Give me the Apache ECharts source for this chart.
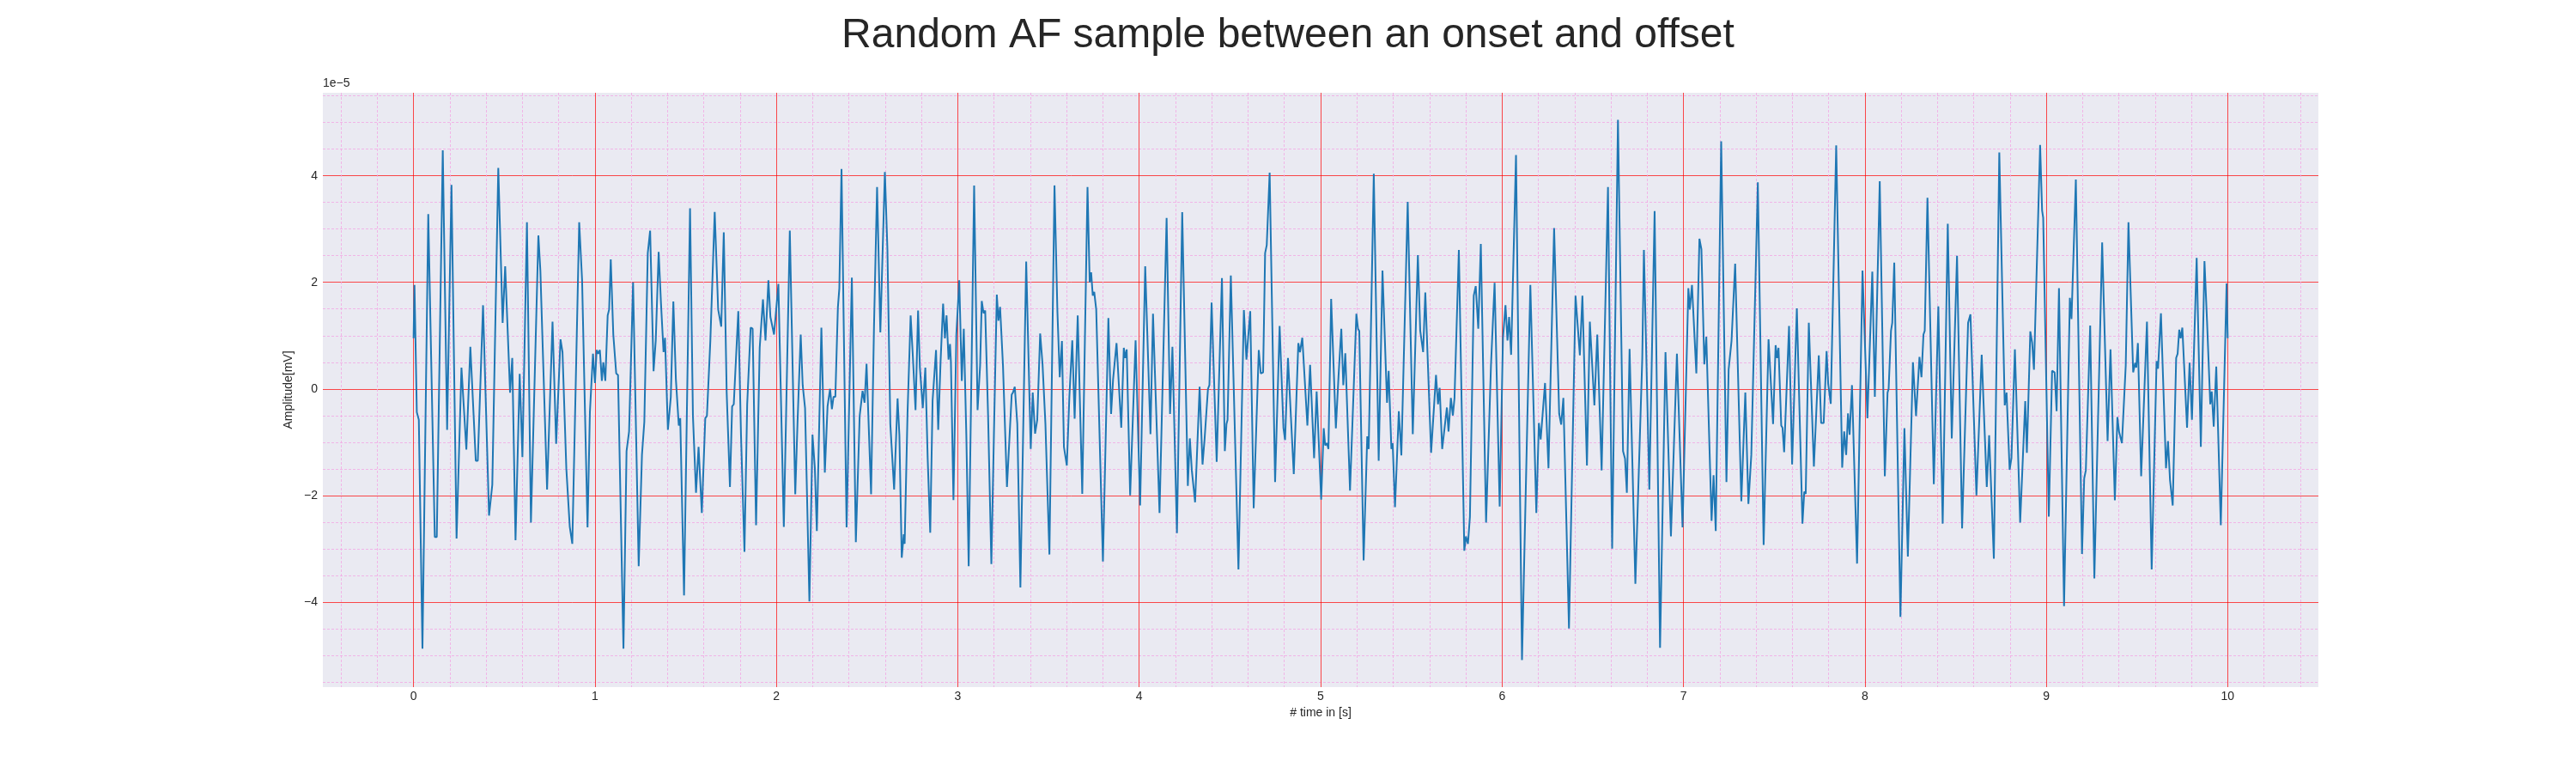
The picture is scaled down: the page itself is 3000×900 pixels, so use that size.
<!DOCTYPE html>
<html>
<head>
<meta charset="utf-8">
<title>Random AF sample</title>
<script src="https://cdn.jsdelivr.net/npm/echarts@6.0.0/dist/echarts.min.js"></script>
<style>
  html, body { margin: 0; padding: 0; background: #ffffff; }
  #chart { width: 3000px; height: 900px; }
</style>
</head>
<body>
<div id="chart"></div>
<script>
// time of each read point, in seconds (one line per second of signal)
const timeSec = [
  0.000,0.005,0.018,0.029,0.049,0.081,0.117,0.128,0.161,0.185,0.209,0.237,0.264,0.291,0.313,0.319,0.343,0.354,0.383,0.416,0.434,0.467,0.491,0.505,0.532,0.544,0.562,0.585,0.600,0.625,0.647,0.688,0.699,0.736,0.766,0.786,0.810,0.821,0.842,0.861,0.875,0.913,0.929,0.959,0.972,0.989,1.000,
  1.009,1.018,1.027,1.038,1.046,1.057,1.070,1.078,1.087,1.101,1.117,1.127,1.157,1.174,1.188,1.210,1.241,1.259,1.272,1.291,1.304,1.323,1.335,1.351,1.364,1.378,1.386,1.402,1.418,1.432,1.446,1.462,1.470,1.491,1.524,1.540,1.557,1.571,1.589,1.608,1.617,1.636,1.660,1.679,1.696,1.710,1.726,1.744,1.756,1.765,1.790,1.805,1.824,1.839,1.858,1.869,1.888,1.908,1.926,1.940,1.956,1.967,1.975,1.987,2.011,
  2.041,2.074,2.104,2.117,2.134,2.145,2.158,2.182,2.199,2.212,2.223,2.248,2.267,2.282,2.296,2.306,2.315,2.325,2.339,2.347,2.359,2.387,2.416,2.438,2.459,2.475,2.486,2.497,2.522,2.538,2.555,2.573,2.598,2.612,2.628,2.636,2.649,2.668,2.678,2.691,2.702,2.707,2.723,2.740,2.751,2.757,2.767,2.781,2.791,2.807,2.821,2.834,2.848,2.861,2.880,2.892,2.905,2.919,2.929,2.938,2.949,2.957,2.962,2.976,2.992,3.008,
  3.022,3.033,3.047,3.060,3.090,3.109,3.123,3.132,3.142,3.151,3.167,3.185,3.199,3.215,3.224,3.233,3.249,3.271,3.279,3.297,3.304,3.314,3.328,3.345,3.377,3.402,3.413,3.426,3.438,3.454,3.467,3.470,3.483,3.505,3.533,3.549,3.562,3.574,3.585,3.601,3.615,3.631,3.644,3.661,3.686,3.715,3.727,3.735,3.744,3.752,3.763,3.771,3.800,3.830,3.845,3.856,3.864,3.875,3.901,3.915,3.923,3.931,3.950,3.980,
  4.005,4.033,4.062,4.076,4.091,4.112,4.151,4.170,4.183,4.208,4.237,4.268,4.279,4.290,4.298,4.308,4.333,4.349,4.360,4.368,4.379,4.387,4.399,4.427,4.456,4.472,4.481,4.487,4.505,4.547,4.577,4.591,4.612,4.631,4.659,4.670,4.683,4.694,4.703,4.719,4.749,4.774,4.795,4.804,4.820,4.852,4.877,4.886,4.899,4.927,4.942,4.964,4.978,
  5.003,5.017,5.025,5.035,5.043,5.058,5.084,5.099,5.114,5.125,5.136,5.162,5.197,5.206,5.213,5.237,5.257,5.265,5.293,5.320,5.341,5.366,5.375,5.390,5.397,5.410,5.431,5.445,5.480,5.508,5.536,5.549,5.565,5.577,5.609,5.636,5.647,5.656,5.670,5.681,5.696,5.705,5.718,5.729,5.738,5.746,5.762,5.792,5.801,5.812,5.823,5.844,5.855,5.869,5.883,5.912,5.923,5.939,5.959,5.987,
  6.005,6.019,6.030,6.039,6.050,6.077,6.110,6.156,6.189,6.203,6.213,6.237,6.256,6.287,6.315,6.326,6.338,6.369,6.405,6.429,6.443,6.468,6.484,6.509,6.525,6.549,6.584,6.607,6.639,6.667,6.678,6.688,6.703,6.735,6.773,6.782,6.812,6.841,6.871,6.901,6.931,6.964,6.995,
  7.027,7.035,7.047,7.071,7.088,7.099,7.115,7.126,7.155,7.166,7.178,7.208,7.237,7.249,7.265,7.273,7.285,7.319,7.341,7.358,7.374,7.410,7.442,7.469,7.494,7.508,7.516,7.524,7.539,7.546,7.555,7.582,7.599,7.625,7.656,7.666,7.674,7.691,7.719,7.746,7.759,7.773,7.789,7.798,7.805,7.812,7.842,7.875,7.886,7.897,7.907,7.916,7.929,7.957,7.987,
  8.014,8.041,8.055,8.082,8.110,8.125,8.131,8.144,8.151,8.162,8.196,8.218,8.237,8.265,8.282,8.301,8.312,8.323,8.330,8.345,8.380,8.405,8.429,8.457,8.479,8.508,8.536,8.569,8.582,8.615,8.644,8.672,8.685,8.711,8.741,8.771,8.781,8.798,8.808,8.827,8.856,8.884,8.893,8.912,8.922,8.932,8.966,8.977,8.983,
  9.014,9.032,9.046,9.057,9.070,9.098,9.130,9.139,9.163,9.197,9.209,9.218,9.242,9.265,9.308,9.338,9.354,9.378,9.392,9.401,9.409,9.417,9.438,9.453,9.479,9.490,9.496,9.505,9.523,9.555,9.581,9.608,9.616,9.632,9.660,9.671,9.682,9.697,9.716,9.724,9.733,9.741,9.750,9.776,9.790,9.803,9.829,9.852,9.872,9.886,9.904,9.912,9.923,9.937,9.962,9.994,10.000
]

// amplitude at each point, in units of 1e-5 mV (the axis carries the 1e−5 offset)
const amplitudeE5 = [
  0.95,1.95,-0.44,-0.58,-4.88,3.28,-2.78,-2.78,4.48,-0.77,3.83,-2.81,0.40,-1.14,0.79,0.77,-1.35,-1.35,1.57,-2.38,-1.80,4.15,1.24,2.30,-0.07,0.58,-2.84,0.28,-1.28,3.13,-2.51,2.88,2.22,-1.89,1.26,-1.03,0.93,0.69,-1.49,-2.59,-2.91,3.13,2.04,-2.60,-0.44,0.66,0.11,
  0.73,0.66,0.73,0.15,0.50,0.15,1.38,1.49,2.43,1.02,0.29,0.26,-4.88,-1.17,-0.80,2.00,-3.33,-1.24,-0.62,2.55,2.97,0.33,0.91,2.57,1.60,0.69,0.96,-0.77,-0.15,1.64,0.18,-0.69,-0.55,-3.88,3.39,-0.51,-1.95,-1.09,-2.33,-0.55,-0.51,0.91,3.32,1.49,1.17,2.94,-0.07,-1.84,-0.33,-0.29,1.46,-0.87,-3.06,-0.29,1.15,1.13,-2.56,0.77,1.68,0.91,2.04,1.35,1.35,1.02,1.97,
  -2.59,2.97,-1.98,-0.58,1.02,0.07,-0.36,-3.99,-0.86,-1.49,-2.67,1.15,-1.57,-0.33,0.00,-0.38,-0.15,-0.15,1.53,1.89,4.13,-2.60,2.09,-2.88,-0.51,-0.04,-0.26,0.47,-1.98,1.17,3.79,1.06,4.07,2.62,-0.66,-0.69,-1.89,-0.18,-0.87,-3.17,-2.73,-2.91,-0.44,1.38,0.69,0.66,-0.40,1.47,0.40,-0.36,0.40,-1.31,-2.70,-0.22,0.73,-0.77,0.51,1.60,0.95,1.38,0.55,0.84,0.51,-2.09,1.02,2.04,
  0.15,1.13,-0.87,-3.33,3.82,-0.40,0.44,1.65,1.42,1.47,-0.51,-3.29,-0.87,1.77,1.28,1.54,0.44,-1.84,-1.84,-0.11,-0.07,0.04,-0.66,-3.73,2.39,-1.13,-0.07,-0.84,-0.58,1.04,0.47,0.44,-0.66,-3.11,3.82,1.46,0.22,0.90,-1.09,-1.44,-0.15,0.91,-0.56,1.38,-1.97,3.79,2.00,2.19,1.75,1.82,1.49,1.46,-3.24,1.33,-0.47,0.18,0.15,0.86,-0.73,0.77,0.58,0.74,-2.00,0.91,
  -2.19,2.30,-0.85,1.41,-0.15,-2.33,3.21,-0.47,0.79,-2.71,3.32,-1.82,-0.93,-1.53,-1.53,-2.13,0.04,-1.42,-0.96,-0.96,0.00,0.07,1.62,-1.37,2.08,-1.17,-0.66,-0.58,2.13,-3.39,1.48,0.55,1.46,-2.24,0.73,0.29,0.31,2.55,2.70,4.06,-1.75,1.18,-0.73,-0.96,0.58,-1.60,0.86,0.69,0.96,-0.69,0.45,-1.30,-0.05,
  -2.08,-0.74,-1.06,-1.02,-1.13,1.69,-0.74,0.26,1.13,0.07,0.67,-1.91,1.41,1.13,1.09,-3.22,-0.89,-1.13,4.04,-1.35,2.22,-0.26,0.34,-1.13,-1.02,-2.22,-0.42,-1.25,3.51,-0.85,2.51,1.09,0.69,1.81,-1.20,0.26,-0.29,0.02,-1.13,-0.80,-0.35,-0.80,-0.17,-0.50,-0.17,-0.15,2.61,-3.04,-2.77,-2.91,-2.40,1.75,1.93,1.13,2.72,-2.51,-1.31,0.44,1.99,-2.21,
  0.95,1.57,0.91,1.35,0.64,4.39,-5.09,1.95,-2.33,-0.64,-0.95,0.11,-1.49,3.02,-0.47,-0.67,-0.17,-4.50,1.75,0.63,1.75,-1.44,1.26,-0.31,1.02,-1.53,3.79,-3.00,5.05,-1.17,-1.31,-1.95,0.75,-3.66,0.58,2.61,-1.89,3.34,-4.86,0.69,-2.77,0.66,-2.60,
  1.89,1.49,1.95,0.29,2.82,2.62,0.46,0.98,-2.48,-1.62,-2.67,4.65,-1.75,0.36,0.90,0.88,2.35,-2.11,-0.07,-2.16,-1.24,3.88,-2.93,0.93,-0.66,0.82,0.58,0.77,-0.69,-0.73,-1.19,1.18,-1.42,1.51,-2.53,-1.93,-1.97,1.24,-1.46,0.63,-0.64,-0.64,0.71,0.09,0.07,-0.28,4.57,-1.48,-0.80,-1.24,-0.46,-0.86,0.07,-3.28,2.22,
  -0.55,2.20,-0.15,3.90,-1.64,-0.07,0.00,1.09,1.24,2.37,-4.28,-0.74,-3.15,0.50,-0.51,0.60,0.22,1.02,1.09,3.59,-1.79,1.55,-2.53,3.10,-0.93,2.50,-2.62,1.24,1.40,-2.00,0.64,-1.84,-0.87,-3.19,4.44,-0.31,-0.07,-1.52,-1.30,0.74,-2.51,-0.23,-1.20,1.08,0.87,0.36,4.58,3.35,3.21,
  -2.40,0.34,0.31,-0.42,1.89,-4.08,1.71,1.31,3.93,-3.10,-1.68,-1.53,1.19,-3.56,2.75,-0.98,0.74,-2.09,-0.53,-0.80,-0.80,-1.02,0.44,3.13,0.31,0.49,0.40,0.86,-1.64,1.26,-3.39,0.52,0.38,1.42,-1.49,-0.98,-1.71,-2.19,0.58,0.66,1.11,0.95,1.15,-0.73,0.49,-0.58,2.46,-1.09,2.40,1.28,-0.29,-0.05,-0.71,0.42,-2.56,1.98,0.95
]

if (timeSec.length !== amplitudeE5.length) {
    console.error('length mismatch', timeSec.length, amplitudeE5.length)
}

const FONT = "'Liberation Sans', Arial, sans-serif"
const TEXT = '#262626'

// matplotlib writes negative ticks with a real minus sign
function tickText(v) {
    return String(v).replace('-', '\u2212')
}

const chart = echarts.init(document.getElementById('chart'))

const option = {
    backgroundColor: '#ffffff',
    animation: false,
    textStyle: { fontFamily: FONT },
    title: [
        {
            text: 'Random AF sample between an onset and offset',
            left: 'center',
            top: 18,
            padding: 0,
            textStyle: { fontFamily: FONT, fontSize: 48, fontWeight: 'normal', color: TEXT }
        },
        {
            // offset text of the y axis
            text: '1e\u22125',
            left: 376,
            top: 90,
            padding: 0,
            textStyle: { fontFamily: FONT, fontSize: 14, fontWeight: 'normal', color: TEXT }
        }
    ],
    grid: {
        left: 376,
        right: 300,
        top: 108,
        bottom: 100,
        show: true,
        backgroundColor: '#eaeaf2',
        borderWidth: 0
    },
    xAxis: {
        type: 'value',
        min: -0.5,
        max: 10.5,
        splitNumber: 10,
        name: '# time in [s]',
        nameLocation: 'middle',
        nameGap: 22,
        nameTextStyle: { fontFamily: FONT, fontSize: 14, color: TEXT },
        axisLine: { show: false },
        axisTick: { show: false },
        axisLabel: {
            showMinLabel: false,
            showMaxLabel: false,
            margin: 4,
            fontFamily: FONT,
            fontSize: 14,
            color: TEXT,
            formatter: tickText
        },
        splitLine: {
            show: true,
            showMinLine: false,
            showMaxLine: false,
            lineStyle: { color: 'rgba(255,0,0,0.7)', width: 1 }
        },
        minorTick: { show: false, splitNumber: 5 },
        minorSplitLine: {
            show: true,
            lineStyle: { color: '#f2a7e3', width: 0.8, type: [3, 2] }
        }
    },
    yAxis: {
        type: 'value',
        min: -5.6,
        max: 5.56,
        splitNumber: 5,
        name: 'Amplitude[mV]',
        nameLocation: 'middle',
        nameRotate: 90,
        nameGap: 27,
        nameTextStyle: { fontFamily: FONT, fontSize: 14, color: TEXT },
        axisLine: { show: false },
        axisTick: { show: false },
        axisLabel: {
            showMinLabel: false,
            showMaxLabel: false,
            margin: 6,
            fontFamily: FONT,
            fontSize: 14,
            color: TEXT,
            formatter: tickText
        },
        splitLine: {
            show: true,
            showMinLine: false,
            showMaxLine: false,
            lineStyle: { color: 'rgba(255,0,0,0.7)', width: 1 }
        },
        minorTick: { show: false, splitNumber: 4 },
        minorSplitLine: {
            show: true,
            lineStyle: { color: '#f2a7e3', width: 0.8, type: [3, 2] }
        }
    },
    series: [{
        name: 'AF',
        type: 'line',
        data: timeSec.map((t, i) => [t, amplitudeE5[i]]),
        symbol: 'none',
        showSymbol: false,
        lineStyle: { color: '#1f77b4', width: 2 },
        z: 3
    }]
}

chart.setOption(option)
</script>
</body>
</html>
